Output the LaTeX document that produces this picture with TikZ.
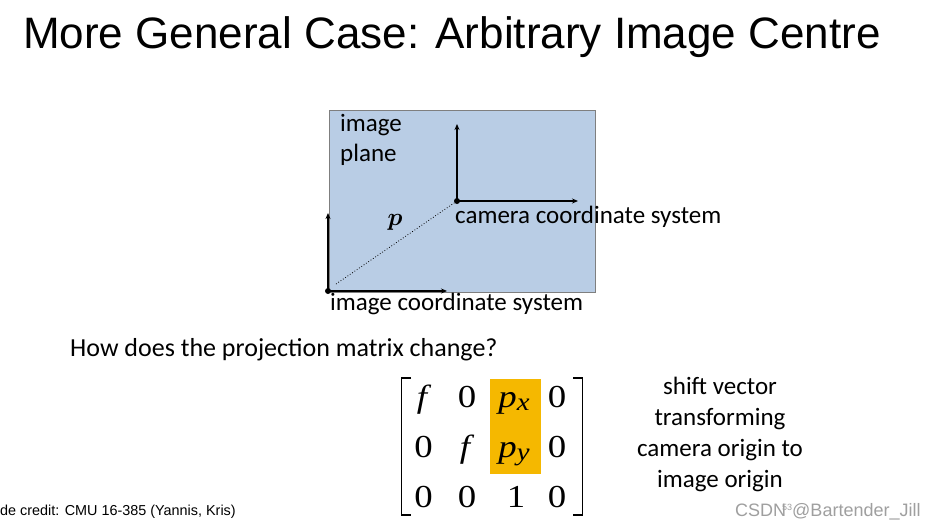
\documentclass[tikz,border=0pt]{standalone}
\usepackage{amsmath}
\usepackage{graphicx}
\usepackage{fontspec}
\setmainfont{Carlito}
\newfontfamily\arialfam{Liberation Sans}
\newfontfamily\seriffam{Liberation Serif}
\usetikzlibrary{arrows.meta}
\definecolor{planeblue}{HTML}{B9CDE5}
\definecolor{planeedge}{HTML}{7F7F7F}
\definecolor{hiorange}{HTML}{F5B800}
\newcommand{\mysub}[1]{\raisebox{-3pt}{\fontsize{25}{28}\selectfont #1}}
\newcommand{\ment}[1]{\scalebox{1.15}[1]{\fontspec{Liberation Serif}\fontsize{32}{36}\selectfont #1}}
\tikzset{
  axis/.style={line width=1.6pt,-{Stealth[length=6pt,width=5pt]}},
  lbl/.style={inner sep=0pt,font=\fontsize{25}{30}\selectfont},
  mcell/.style={inner sep=0pt,anchor=base},
  dot/.style={circle,fill=black,inner sep=0pt,minimum size=6pt}
}
\begin{document}
\begin{tikzpicture}[x=1pt,y=-1pt]
\fill[white] (0,0) rectangle (939,531);
\useasboundingbox (0,0) rectangle (939,531);
\node[anchor=west,inner sep=0pt,font=\arialfam\fontsize{44}{48}\selectfont] (title) at (23,37) {More General Case: Arbitrary Image Centre};
\node[draw=planeedge,line width=1.2pt,fill=planeblue,minimum width=266pt,minimum height=182pt,inner sep=0pt,anchor=north west] (plane) at (329,110) {};
\node[dot] (co) at (457,201) {};
\coordinate (cy) at (457,124);
\coordinate (cx) at (578,201);
\draw[axis] (co.center) -- (cy);
\draw[axis] (co.center) -- (cx);
\node[dot] (io) at (328,291) {};
\coordinate (iy) at (328,213);
\coordinate (ix) at (447,291);
\draw[axis] (io.center) -- (iy);
\draw[axis] (io.center) -- (ix);
\draw[dotted,line width=0.8pt] (336,284) -- (co);
\node[inner sep=0pt,font=\fontsize{24}{28}\selectfont] (p) at (395,222) {$\boldsymbol{p}$};
\node[lbl,anchor=west,align=left] (iplane) at (340,140) {image\\plane};
\node[lbl,anchor=west] (ccs) at (455,217) {camera coordinate system};
\node[lbl,anchor=west] (ics) at (330,304) {image coordinate system};
\node[lbl,anchor=west,font=\fontsize{26}{30}\selectfont] (q) at (70,350) {How does the projection matrix change?};
\fill[hiorange] (490,379) rectangle (541,474);
\draw[line width=1.3pt] (411,378) -- (401.5,378) -- (401.5,515) -- (411,515);
\draw[line width=1.3pt] (573,378) -- (582.5,378) -- (582.5,515) -- (573,515);
\node[mcell] (m11) at (422,407) {\ment{\itshape f}};
\node[mcell] (m12) at (467,407) {\ment{0}};
\node[mcell] (m13) at (514,407) {\ment{\itshape p\mysub{x}}};
\node[mcell] (m14) at (557,407) {\ment{0}};
\node[mcell] (m21) at (423.5,457) {\ment{0}};
\node[mcell] (m22) at (465,457) {\ment{\itshape f}};
\node[mcell] (m23) at (514,457) {\ment{\itshape p\mysub{y}}};
\node[mcell] (m24) at (557,457) {\ment{0}};
\node[mcell] (m31) at (423.5,507) {\ment{0}};
\node[mcell] (m32) at (467,507) {\ment{0}};
\node[mcell] (m33) at (516,507) {\ment{1}};
\node[mcell] (m34) at (557,507) {\ment{0}};
\node[lbl,align=center,font=\fontsize{25}{31}\selectfont] (shift) at (720,434) {shift vector\\transforming\\camera origin to\\image origin};
\node[anchor=west,inner sep=0pt,font=\arialfam\fontsize{14.4}{16}\selectfont] (credit) at (0,512) {de credit: CMU 16-385 (Yannis, Kris)};
\node[anchor=west,inner sep=0pt,text=gray!75,font=\arialfam\fontsize{18}{20}\selectfont] (wm) at (735,512) {CSDN\hspace{-4pt}\raisebox{6pt}{\fontsize{9}{10}\selectfont 53}@Bartender\_Jill};
\end{tikzpicture}
\end{document}
